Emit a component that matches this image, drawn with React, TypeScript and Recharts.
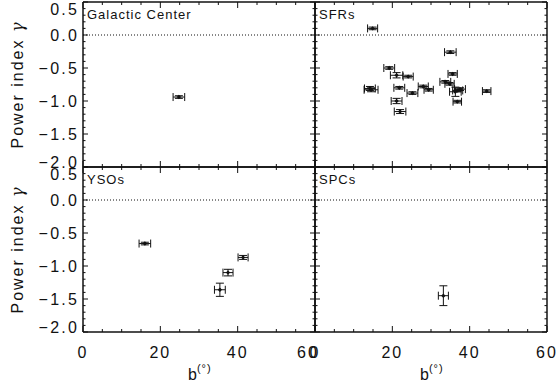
import { ErrorBar, ReferenceLine, Scatter, ScatterChart, XAxis, YAxis } from "recharts";

// Galactic latitude b (deg) vs power index gamma, four source classes
const GC_B = [24.8];
const GC_GAMMA = [-0.94];
const GC_B_ERR = [1.5];
const GC_GAMMA_ERR = [0.02];

const SFR_B = [14.9, 35.0, 19.2, 21.1, 24.1, 35.6, 33.7, 34.8, 28.0, 29.4, 21.8, 14.5, 14.2, 25.2, 37.5, 36.3, 36.9, 44.4, 21.1, 36.8, 22.0];
const SFR_GAMMA = [0.1, -0.26, -0.5, -0.61, -0.63, -0.59, -0.71, -0.74, -0.78, -0.83, -0.8, -0.83, -0.81, -0.88, -0.82, -0.86, -0.84, -0.85, -1.0, -1.01, -1.16];
const SFR_B_ERR = [1.3, 1.5, 1.4, 1.6, 1.3, 1.2, 1.4, 1.2, 1.3, 1.2, 1.4, 1.8, 1.4, 1.4, 1.4, 1.5, 1.3, 1.1, 1.4, 1.1, 1.5];
const SFR_GAMMA_ERR = [0.02, 0.02, 0.02, 0.04, 0.02, 0.02, 0.02, 0.02, 0.02, 0.02, 0.02, 0.03, 0.03, 0.02, 0.02, 0.07, 0.02, 0.02, 0.04, 0.02, 0.03];

const YSO_B = [16.0, 41.4, 37.5, 35.4];
const YSO_GAMMA = [-0.66, -0.87, -1.1, -1.36];
const YSO_B_ERR = [1.5, 1.3, 1.3, 1.4];
const YSO_GAMMA_ERR = [0.02, 0.03, 0.05, 0.1];

const SPC_B = [33.2];
const SPC_GAMMA = [-1.45];
const SPC_B_ERR = [1.3];
const SPC_GAMMA_ERR = [0.15];

const B_TICKS = [0, 5, 10, 15, 20, 25, 30, 35, 40, 45, 50, 55, 60];
const B_LABELS = [0, 20, 40, 60];
const GAMMA_TICKS = [
  -2.0, -1.9, -1.8, -1.7, -1.6, -1.5, -1.4, -1.3, -1.2, -1.1, -1.0, -0.9, -0.8,
  -0.7, -0.6, -0.5, -0.4, -0.3, -0.2, -0.1, 0.0, 0.1, 0.2, 0.3, 0.4, 0.5,
];
const GAMMA_LABELS = [-2.0, -1.5, -1.0, -0.5, 0.0, 0.5];

// layout
const W = 558;
const H = 386;
const PW = 232;
const PH = 165;
const COLS = [83, 315];
const ROWS = [2, 167];
const FONT = "'Liberation Sans', Arial, sans-serif";
const INK = "#111";

const fmt = (v: number) => (v < 0 ? "\u2212" : "") + Math.abs(v).toFixed(1);
const isLabel = (list: number[], v: number) => list.some((t) => Math.abs(t - v) < 1e-6);

function BTick(props: any) {
  const { x, y, payload, showLabel, col } = props;
  const major = isLabel(B_LABELS, payload.value);
  const len = major ? 6 : 3;
  // the last label of the left column is nudged inward, like the end labels on gamma
  const dx = col === 0 && payload.value === 60 ? -7 : 0;
  return (
    <g>
      <line x1={x} x2={x} y1={y} y2={y - len} stroke={INK} strokeWidth={1} />
      <line x1={x} x2={x} y1={y - PH} y2={y - PH + len} stroke={INK} strokeWidth={1} />
      {showLabel && major && (
        <text x={x + dx} y={y + 26} textAnchor="middle" fontSize={16} fontFamily={FONT} fill={INK} letterSpacing={2}>
          {payload.value}
        </text>
      )}
    </g>
  );
}

function GammaTick(props: any) {
  const { x, y, payload, showLabel } = props;
  const major = isLabel(GAMMA_LABELS, payload.value);
  const len = major ? 5 : 2.5;
  // end labels sit inside the panel edges
  const dy = payload.value > 0.45 ? 7 : payload.value < -1.95 ? -5 : 0;
  return (
    <g>
      <line x1={x} x2={x + len} y1={y} y2={y} stroke={INK} strokeWidth={1} />
      <line x1={x + PW} x2={x + PW - len} y1={y} y2={y} stroke={INK} strokeWidth={1} />
      {showLabel && major && (
        <text x={x - 4} y={y + 6 + dy} textAnchor="end" fontSize={16} fontFamily={FONT} fill={INK} letterSpacing={2.2}>
          {fmt(payload.value)}
        </text>
      )}
    </g>
  );
}

function Marker(props: any) {
  const { cx, cy } = props;
  return <path d={`M${cx - 2.2},${cy} L${cx},${cy - 2.2} L${cx + 2.2},${cy} L${cx},${cy + 2.2} Z`} fill={INK} />;
}

type PanelProps = {
  name: string;
  b: number[];
  gamma: number[];
  bErr: number[];
  gammaErr: number[];
  col: number;
  row: number;
};

function Panel({ name, b, gamma, bErr, gammaErr, col, row }: PanelProps) {
  const left = COLS[col];
  const top = ROWS[row];
  const showY = col === 0;
  const showX = row === 1;
  const data = b.map((v, i) => ({ b: v, gamma: gamma[i], bErr: bErr[i], gammaErr: gammaErr[i] }));

  return (
    <div style={{ position: "absolute", left: 0, top: 0 }}>
      <ScatterChart
        width={W}
        height={H}
        margin={{ left: left - 1, top, right: W - left - PW, bottom: H - top - PH - 1 }}
      >
        <XAxis
          type="number"
          dataKey="b"
          domain={[0, 60]}
          ticks={B_TICKS}
          interval={0}
          height={1}
          tickSize={0}
          tickMargin={0}
          tickLine={false}
          axisLine={{ stroke: INK, strokeWidth: 1.5 }}
          tick={(p: any) => <BTick {...p} showLabel={showX} col={col} />}
          allowDataOverflow
        />
        <YAxis
          type="number"
          dataKey="gamma"
          domain={[-2, 0.5]}
          ticks={GAMMA_TICKS}
          interval={0}
          width={1}
          tickSize={0}
          tickMargin={0}
          tickLine={false}
          axisLine={{ stroke: INK, strokeWidth: 1.5 }}
          tick={(p: any) => <GammaTick {...p} showLabel={showY} />}
          allowDataOverflow
        />
        <ReferenceLine y={0} stroke={INK} strokeWidth={1} strokeDasharray="1 2" />
        <ReferenceLine y={0.5} stroke={INK} strokeWidth={1.5} />
        <ReferenceLine x={60} stroke={INK} strokeWidth={1.5} />
        <Scatter data={data} shape={<Marker />} isAnimationActive={false}>
          <ErrorBar dataKey="bErr" direction="x" width={4} stroke={INK} strokeWidth={1} />
          <ErrorBar dataKey="gammaErr" direction="y" width={4} stroke={INK} strokeWidth={1} />
        </Scatter>
        <text x={left + 4} y={top + 17} fontSize={13} fontFamily={FONT} fill={INK} letterSpacing={1}>
          {name}
        </text>
        {showY && (
          <text
            x={17}
            y={top + PH / 2}
            transform={`rotate(-90 17 ${top + PH / 2})`}
            textAnchor="middle"
            dominantBaseline="central"
            fontSize={16}
            fontFamily={FONT}
            fill={INK}
            letterSpacing={2}
          >
            Power index <tspan fontFamily="'DejaVu Serif', serif" fontStyle="italic">γ</tspan>
          </text>
        )}
        {showX && (
          <text x={left + PW / 2 - 11} y={380} fontSize={16} fontFamily={FONT} fill={INK}>
            b
            <tspan dy={-8} fontSize={11} letterSpacing={1}>
              (°)
            </tspan>
          </text>
        )}
      </ScatterChart>
    </div>
  );
}

export default function App() {
  return (
    <div style={{ position: "absolute", left: 0, top: 0, width: W, height: H, background: "#fff" }}>
      <Panel name="Galactic Center" b={GC_B} gamma={GC_GAMMA} bErr={GC_B_ERR} gammaErr={GC_GAMMA_ERR} col={0} row={0} />
      <Panel name="SFRs" b={SFR_B} gamma={SFR_GAMMA} bErr={SFR_B_ERR} gammaErr={SFR_GAMMA_ERR} col={1} row={0} />
      <Panel name="YSOs" b={YSO_B} gamma={YSO_GAMMA} bErr={YSO_B_ERR} gammaErr={YSO_GAMMA_ERR} col={0} row={1} />
      <Panel name="SPCs" b={SPC_B} gamma={SPC_GAMMA} bErr={SPC_B_ERR} gammaErr={SPC_GAMMA_ERR} col={1} row={1} />
    </div>
  );
}
